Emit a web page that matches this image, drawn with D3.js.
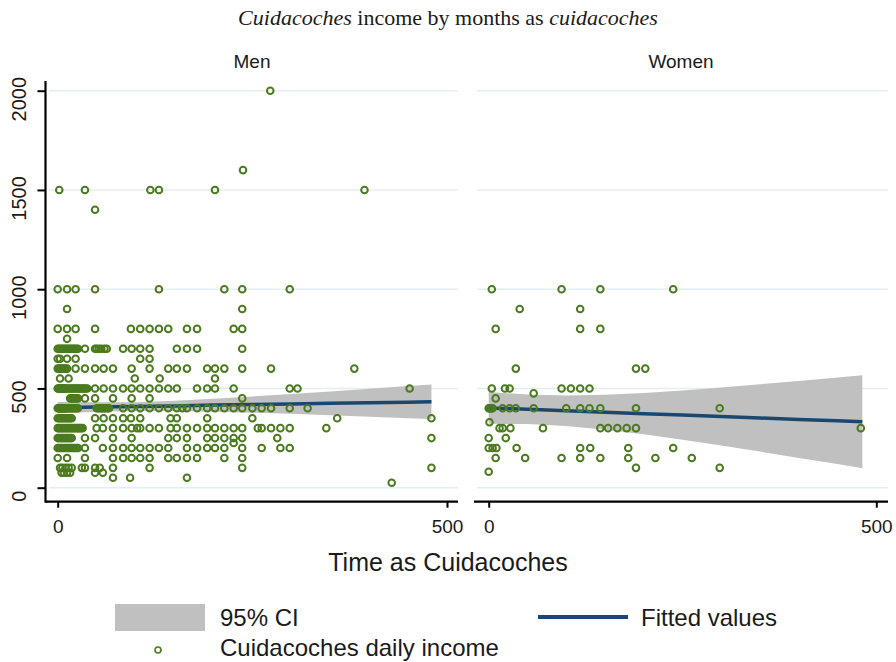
<!DOCTYPE html>
<html>
<head>
<meta charset="utf-8">
<script src="https://cdn.jsdelivr.net/npm/d3@7/dist/d3.min.js"></script>
<style>
  html, body { margin: 0; padding: 0; background: #fff; }
  svg { display: block; }
  text { font-family: "Liberation Sans", Arial, sans-serif; fill: #1a1a1a; }
</style>
</head>
<body>
<svg id="chart" width="896" height="662"></svg>
<script>
// Daily income (rows of equal income) against months worked, by sex.
const menRows = [
  [2000, [273]],
  [1600, [238]],
  [1500, [2, 35, 119, 130, 202, 394]],
  [1400, [48]],
  [1000, [0, 12, 23, 48, 130, 214, 237, 298]],
  [900, [12, 237]],
  [800, [0, 12, 23, 48, 94, 106, 118, 130, 142, 166, 179, 226, 237]],
  [750, [12]],
  [700, [0, 2, 4, 6, 8, 10, 12, 14, 16, 18, 20, 22, 24, 26, 35, 48, 50, 53, 56, 60, 63, 84, 95, 106, 118, 153, 166, 179, 237]],
  [650, [0, 3, 12, 23, 106, 118]],
  [600, [0, 2, 4, 6, 8, 10, 12, 23, 35, 48, 59, 71, 95, 118, 142, 153, 166, 192, 202, 214, 237, 274, 381]],
  [550, [3, 14, 99, 131, 202]],
  [500, [0, 1, 2, 3, 4, 5, 6, 7, 8, 9, 10, 12, 14, 16, 18, 20, 22, 24, 26, 28, 30, 32, 34, 36, 38, 48, 59, 71, 84, 95, 106, 118, 130, 142, 153, 179, 192, 202, 226, 298, 308, 452]],
  [450, [16, 18, 20, 22, 24, 26, 35, 48, 71, 95, 118, 237]],
  [400, [0, 1, 2, 3, 4, 5, 6, 7, 8, 9, 10, 11, 12, 14, 16, 18, 20, 22, 24, 26, 50, 52, 54, 56, 58, 60, 62, 64, 66, 84, 95, 106, 118, 130, 142, 153, 160, 166, 179, 192, 202, 214, 226, 237, 250, 262, 274, 298, 321]],
  [350, [0, 2, 4, 6, 8, 10, 12, 14, 16, 18, 48, 59, 71, 84, 94, 106, 145, 153, 192, 250, 359, 480]],
  [300, [0, 2, 4, 6, 8, 10, 12, 14, 16, 18, 20, 22, 24, 26, 28, 30, 32, 50, 58, 71, 84, 95, 102, 106, 118, 130, 145, 153, 166, 179, 192, 202, 214, 226, 237, 257, 262, 274, 286, 298, 345]],
  [250, [0, 2, 4, 6, 8, 10, 12, 14, 16, 18, 35, 48, 71, 95, 142, 153, 166, 192, 202, 214, 226, 237, 282, 480]],
  [225, [226]],
  [200, [0, 2, 4, 6, 8, 10, 12, 14, 16, 18, 20, 22, 24, 26, 35, 58, 71, 84, 95, 106, 118, 130, 142, 166, 179, 192, 202, 214, 237, 262, 286, 298]],
  [150, [0, 12, 35, 71, 84, 95, 106, 118, 142, 153, 166, 179, 214, 237]],
  [100, [3, 6, 10, 14, 18, 31, 35, 48, 54, 71, 118, 237, 480]],
  [75, [5, 8, 12, 16, 48, 58]],
  [50, [71, 93, 166]],
  [25, [429]]
];

const womenRows = [
  [1000, [4, 94, 144, 238]],
  [900, [40, 118]],
  [800, [9, 118, 144]],
  [600, [35, 190, 202]],
  [500, [4, 21, 27, 94, 106, 118, 130]],
  [475, [58]],
  [450, [9]],
  [400, [0, 1, 2, 3, 4, 5, 18, 27, 35, 58, 100, 118, 130, 144, 190, 298]],
  [330, [1]],
  [300, [14, 18, 28, 70, 144, 154, 166, 178, 190, 480]],
  [250, [0, 22]],
  [200, [0, 5, 10, 36, 118, 131, 180, 238]],
  [150, [9, 47, 94, 118, 144, 180, 215, 262]],
  [100, [190, 298]],
  [80, [0]]
];

// Linear fit with 95% confidence band, evaluated along the months axis.
const menFitMonths = [0, 50, 100, 150, 200, 250, 300, 350, 400, 450, 480];
const menFit       = [403, 406, 409, 412, 416, 419, 422, 425, 428, 431, 433];
const menLo        = [374, 382, 387, 387, 383, 378, 372, 365, 358, 350, 346];
const menHi        = [432, 430, 431, 438, 448, 460, 472, 485, 498, 512, 520];

const womenFitMonths = [0, 50, 100, 150, 200, 250, 300, 350, 400, 450, 482];
const womenFit       = [402, 395, 388, 380, 373, 366, 359, 351, 344, 337, 332];
const womenLo        = [322, 321, 311, 292, 269, 242, 212, 182, 150, 119, 98];
const womenHi        = [482, 469, 464, 468, 477, 490, 505, 521, 537, 555, 566];

const yTicks = [0, 500, 1000, 1500, 2000];
const xTicks = [0, 500];
const panelNames = ["Men", "Women"];

const COL_PT = "#4b7a1f";
const COL_FIT = "#1a476f";
const COL_CI = "#c0c0c0";
const COL_GRID = "#e4edf1";

const svg = d3.select("#chart");
svg.append("rect").attr("width", 896).attr("height", 662).attr("fill", "#fff");

const y = d3.scaleLinear().domain([0, 2000]).range([487.7, 90.7]);
const panels = [
  { name: panelNames[0], rows: menRows, fm: menFitMonths, fit: menFit, lo: menLo, hi: menHi,
    x: d3.scaleLinear().domain([0, 500]).range([57.7, 447]), left: 46, right: 458 },
  { name: panelNames[1], rows: womenRows, fm: womenFitMonths, fit: womenFit, lo: womenLo, hi: womenHi,
    x: d3.scaleLinear().domain([0, 500]).range([488.7, 876.3]), left: 474, right: 888 }
];
const plotTop = 81, axisY = 501.7;

panels.forEach((p, pi) => {
  const g = svg.append("g");
  // grid
  g.selectAll("line.grid").data(yTicks).join("line")
    .attr("x1", p.left + 3).attr("x2", p.right)
    .attr("y1", d => y(d)).attr("y2", d => y(d))
    .attr("stroke", COL_GRID).attr("stroke-width", 1.5);

  const band = p.fm.map((m, i) => ({ m, fit: p.fit[i], lo: p.lo[i], hi: p.hi[i] }));
  g.append("path").datum(band)
    .attr("d", d3.area().x(d => p.x(d.m)).y0(d => y(d.lo)).y1(d => y(d.hi)))
    .attr("fill", COL_CI);
  g.append("path").datum(band)
    .attr("d", d3.line().x(d => p.x(d.m)).y(d => y(d.fit)))
    .attr("fill", "none").attr("stroke", COL_FIT).attr("stroke-width", 3.5);

  const pts = p.rows.flatMap(([inc, ms]) => ms.map(m => ({ m, inc })));
  g.selectAll("circle.pt").data(pts).join("circle")
    .attr("cx", d => p.x(d.m)).attr("cy", d => y(d.inc)).attr("r", 3.3)
    .attr("fill", "none").attr("stroke", COL_PT).attr("stroke-width", 2);

  // x axis
  const xa = g.append("g").attr("transform", `translate(0,${axisY})`)
    .call(d3.axisBottom(p.x).tickValues(xTicks).tickSize(6).tickSizeOuter(0).tickPadding(12)
      .tickFormat(d3.format("d")));
  xa.select(".domain").remove();
  xa.selectAll(".tick line").attr("stroke", "#000").attr("stroke-width", 2);
  xa.selectAll(".tick text").attr("font-size", 19).attr("fill", "#222")
    .attr("font-family", "Liberation Sans, Arial, sans-serif");
  g.append("line").attr("x1", p.left).attr("x2", p.right).attr("y1", axisY).attr("y2", axisY)
    .attr("stroke", "#000").attr("stroke-width", 2.2);

  g.append("text").attr("x", (p.left + p.right) / 2).attr("y", 68)
    .attr("text-anchor", "middle").attr("font-size", 19).text(p.name);

  if (pi === 0) {
    const ya = g.append("g").attr("transform", `translate(${p.left - 0.5},0)`)
      .call(d3.axisLeft(y).tickValues(yTicks).tickSize(8).tickSizeOuter(0).tickPadding(0)
        .tickFormat(d3.format("d")));
    ya.select(".domain").remove();
    ya.selectAll(".tick line").attr("stroke", "#000").attr("stroke-width", 2);
    ya.selectAll(".tick text").attr("font-size", 20).attr("fill", "#222")
      .attr("font-family", "Liberation Sans, Arial, sans-serif")
      .attr("text-anchor", "middle").attr("dy", 0)
      .attr("transform", "translate(-20,0) rotate(-90)");
    g.append("line").attr("x1", p.left - 0.5).attr("x2", p.left - 0.5)
      .attr("y1", plotTop).attr("y2", axisY + 1)
      .attr("stroke", "#000").attr("stroke-width", 2.2);
  }
});

// title
const title = svg.append("text").attr("x", 448).attr("y", 25).attr("text-anchor", "middle")
  .style("font-family", "'Liberation Serif', 'Times New Roman', serif").attr("font-size", 22);
title.append("tspan").attr("font-style", "italic").text("Cuidacoches");
title.append("tspan").text(" income by months as ");
title.append("tspan").attr("font-style", "italic").text("cuidacoches");

svg.append("text").attr("x", 448).attr("y", 571).attr("text-anchor", "middle")
  .attr("font-size", 25).text("Time as Cuidacoches");

// legend
const lg = svg.append("g");
lg.append("rect").attr("x", 115).attr("y", 604).attr("width", 90).attr("height", 27).attr("fill", COL_CI);
lg.append("text").attr("x", 220).attr("y", 626).attr("font-size", 24).text("95% CI");
lg.append("line").attr("x1", 538).attr("x2", 628).attr("y1", 617).attr("y2", 617)
  .attr("stroke", COL_FIT).attr("stroke-width", 4);
lg.append("text").attr("x", 641).attr("y", 626).attr("font-size", 24).text("Fitted values");
lg.append("circle").attr("cx", 158).attr("cy", 650).attr("r", 3)
  .attr("fill", "none").attr("stroke", COL_PT).attr("stroke-width", 1.6);
lg.append("text").attr("x", 220).attr("y", 656).attr("font-size", 24).text("Cuidacoches daily income");
</script>
</body>
</html>
